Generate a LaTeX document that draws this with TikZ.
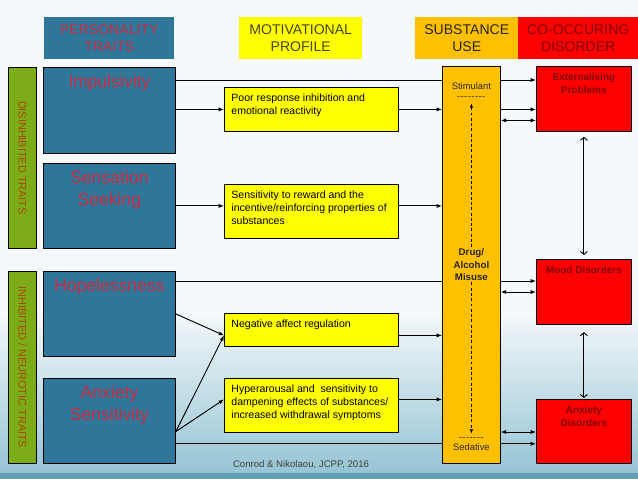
\documentclass[tikz,border=0pt]{standalone}
\usepackage{fontspec}
\setmainfont{Liberation Sans}
\usepackage{graphicx}
\usetikzlibrary{arrows.meta,positioning}

\pgfdeclarelayer{slide}
\pgfdeclarelayer{behind}
\pgfsetlayers{slide,behind,main}

\definecolor{traitblue}{RGB}{46,119,155}
\definecolor{traitred}{RGB}{200,45,65}
\definecolor{motyellow}{RGB}{255,255,0}
\definecolor{motivtext}{RGB}{70,70,40}
\definecolor{subsorange}{RGB}{255,192,0}
\definecolor{disred}{RGB}{255,0,0}
\definecolor{disdark}{RGB}{125,0,0}
\definecolor{bargreen}{RGB}{125,172,25}
\definecolor{barbrown}{RGB}{165,75,0}
\definecolor{slidetop}{RGB}{245,249,251}
\definecolor{slidelow}{RGB}{150,196,212}
\definecolor{slideband}{RGB}{100,158,182}

% top-aligned text inside a fixed box
\newcommand{\toptext}[4]{\parbox[c][#2][t]{#1}{\vspace*{#3}#4}}
\newcommand{\dashrow}[1]{\foreach \k in {1,...,#1}{-\kern0.4pt}}

\begin{document}
\begin{tikzpicture}[
    head/.style={anchor=north west, inner sep=0pt, minimum height=1.26cm, align=center, font=\fontsize{12}{15}\selectfont},
    bar/.style={draw, line width=0.7pt, fill=bargreen, text=barbrown, anchor=north west, inner sep=0pt, minimum width=0.84cm, font=\fontsize{9.3}{11}\selectfont},
    trait/.style={draw, line width=0.7pt, fill=traitblue, text=traitred, anchor=north west, inner sep=0pt, minimum width=3.96cm, font=\fontsize{15}{18.8}\selectfont},
    motive/.style={draw, line width=0.7pt, fill=motyellow, anchor=north west, inner sep=0pt, minimum width=5.22cm, font=\fontsize{9}{11.3}\selectfont},
    subcol/.style={draw, line width=0.7pt, fill=subsorange, anchor=north west, inner sep=0pt, minimum width=1.74cm, minimum height=11.91cm},
    coltext/.style={inner sep=1pt, align=center, text=black!85, font=\fontsize{8}{10}\selectfont},
    disorder/.style={draw, line width=0.7pt, fill=disred, text=disdark, anchor=north west, inner sep=0pt, minimum width=2.85cm, font=\bfseries\fontsize{8.5}{11}\selectfont},
    link/.style={line width=0.8pt, -{Latex[length=4.5pt,width=3.5pt]}},
    twoway/.style={line width=0.8pt, {Latex[length=4.5pt,width=3.5pt]}-{Latex[length=4.5pt,width=3.5pt]}},
    vtwoway/.style={line width=0.8pt, {Straight Barb[length=2.5pt,width=6pt]}-{Straight Barb[length=2.5pt,width=6pt]}},
    drift/.style={line width=0.6pt, dash pattern=on 2.5pt off 2pt},
    cite/.style={text=black!75, font=\fontsize{8.2}{10}\selectfont}
]
    \useasboundingbox (0,0) rectangle (19.14,-14.37);

    % Slide background
    \begin{pgfonlayer}{slide}
        \fill[slidetop] (0,0) rectangle (19.14,-14.37);
        \shade[top color=slidetop, bottom color=slidelow] (0,-9.3) rectangle (19.14,-14.19);
        \fill[slideband] (0,-14.19) rectangle (19.14,-14.37);
    \end{pgfonlayer}

    % Column headings
    \node[head, fill=traitblue, text=traitred, minimum width=3.9cm] (hpers) at (1.32,-0.51) {PERSONALITY\\TRAITS};
    \node[head, fill=motyellow, text=motivtext, minimum width=3.69cm] (hmotiv) at (7.17,-0.51) {MOTIVATIONAL\\PROFILE};
    \node[head, fill=subsorange, text=black!85, minimum width=3.09cm] (hsubst) at (12.45,-0.51) {SUBSTANCE\\USE};
    \node[head, fill=disred, text=disdark, minimum width=3.6cm] (hdisord) at (15.54,-0.51) {CO-OCCURING\\DISORDER};

    % Trait groups
    \node[bar, minimum height=5.43cm] (disbar) at (0.24,-2.01) {\rotatebox{-90}{DISINHIBITED TRAITS}};
    \node[bar, minimum height=5.76cm] (inhbar) at (0.24,-8.13) {\rotatebox{-90}{INHIBITED / NEUROTIC TRAITS}};

    % Personality traits
    \node[trait] (imp) at (1.29,-2.01) {\toptext{3.96cm}{2.58cm}{6.5pt}{\centering Impulsivity}};
    \node[trait] (sens) at (1.29,-4.89) {\toptext{3.96cm}{2.55cm}{6.5pt}{\centering Sensation\\Seeking}};
    \node[trait] (hop) at (1.29,-8.13) {\toptext{3.96cm}{2.55cm}{6.5pt}{\centering Hopelessness}};
    \node[trait] (anx) at (1.29,-11.34) {\toptext{3.96cm}{2.55cm}{6.5pt}{\centering Anxiety\\Sensitivity}};

    % Motivational profiles
    \node[motive] (poor) at (6.72,-2.61) {\toptext{5.22cm}{1.32cm}{5.5pt}{\raggedright\leftskip=6pt Poor response inhibition and\\emotional reactivity}};
    \node[motive] (reward) at (6.72,-5.52) {\toptext{5.22cm}{1.62cm}{5.5pt}{\raggedright\leftskip=6pt Sensitivity to reward and the\\incentive/reinforcing properties of\\substances}};
    \node[motive] (negaff) at (6.72,-9.39) {\toptext{5.22cm}{0.99cm}{5.5pt}{\raggedright\leftskip=6pt Negative affect regulation}};
    \node[motive] (hyper) at (6.72,-11.34) {\toptext{5.22cm}{1.62cm}{5.5pt}{\raggedright\leftskip=6pt Hyperarousal and\ \ sensitivity to\\dampening effects of substances/\\increased withdrawal symptoms}};

    % Substance use column
    \node[subcol] (subst) at (13.26,-1.98) {};
    \node[coltext, below=0.45cm of subst.north] (stim) {Stimulant\\[-1pt]\dashrow{8}};
    \node[coltext, font=\bfseries\fontsize{8.3}{10.7}\selectfont] (drug) at (subst.center) {Drug/\\Alcohol\\Misuse};
    \node[coltext, above=0.35cm of subst.south] (sed) {\dashrow{7}\\[-1pt]Sedative};

    % Co-occurring disorders
    \node[disorder] (ext) at (16.08,-1.98) {\toptext{2.85cm}{1.95cm}{6pt}{\centering Externalising\\Problems}};
    \node[disorder] (mood) at (16.08,-7.77) {\toptext{2.85cm}{1.95cm}{6pt}{\centering Mood Disorders}};
    \node[disorder] (anxdis) at (16.08,-11.97) {\toptext{2.85cm}{1.92cm}{6pt}{\centering Anxiety\\Disorders}};

    \node[cite] (src) at (9.03,-13.95) {Conrod \& Nikolaou, JCPP, 2016};

    % Row points
    \coordinate (impline) at ([yshift=-0.39cm]imp.north east);
    \coordinate (hopline) at ([yshift=-0.3cm]hop.north east);
    \coordinate (anxline) at ([yshift=0.6cm]anx.south east);
    \coordinate (anxfork) at ([yshift=-0.32cm]anx.east);
    \coordinate (negin) at ([yshift=-0.165cm]negaff.west);
    \coordinate (hypin) at ([yshift=0.18cm]hyper.west);
    \coordinate (ext2) at ([yshift=-0.645cm]ext.west);
    \coordinate (mood2) at ([yshift=-0.99cm]mood.north west);
    \coordinate (anxdis2) at ([yshift=-0.99cm]anxdis.north west);

    % Direct lines, behind the substance column
    \begin{pgfonlayer}{behind}
        \draw[link] (impline) -- (impline -| ext.west);
        \draw[link] (hopline) -- (hopline -| mood.west);
        \draw[link] (anxline) -- (anxline -| anxdis.west);
    \end{pgfonlayer}

    % Traits to profiles to use
    \draw[link] (poor.west -| imp.east) -- (poor.west);
    \draw[link] (poor.east) -- (poor.east -| subst.west);
    \draw[link] (sens.east) -- (sens.east -| reward.west);
    \draw[link] (sens.east -| reward.east) -- (sens.east -| subst.west);
    \draw[link] (hop.east) -- (negin);
    \draw[link] (anxfork) -- (negin);
    \draw[link] (anxfork) -- (hypin);
    \draw[link] (negin -| negaff.east) -- (negin -| subst.west);
    \draw[link] (hypin -| hyper.east) -- (hypin -| subst.west);

    % Use to disorders
    \draw[link] (poor.east -| subst.east) -- (poor.east -| ext.west);
    \draw[twoway] (ext2 -| subst.east) -- (ext2);
    \draw[twoway] (mood2 -| subst.east) -- (mood2);
    \draw[twoway] (anxdis2 -| subst.east) -- (anxdis2);
    \draw[vtwoway, shorten <=0.15cm, shorten >=0.12cm] (ext.south) -- (mood.north);
    \draw[vtwoway, shorten <=0.22cm, shorten >=0.03cm] (mood.south) -- (anxdis.north);

    % Stimulant / sedative axis
    \draw[drift, {Latex[length=3.5pt,width=3pt]}-, shorten <=2pt] (stim.south) -- (drug.north);
    \draw[drift, -{Latex[length=3.5pt,width=3pt]}, shorten >=2pt] (drug.south) -- (sed.north);
\end{tikzpicture}
\end{document}
